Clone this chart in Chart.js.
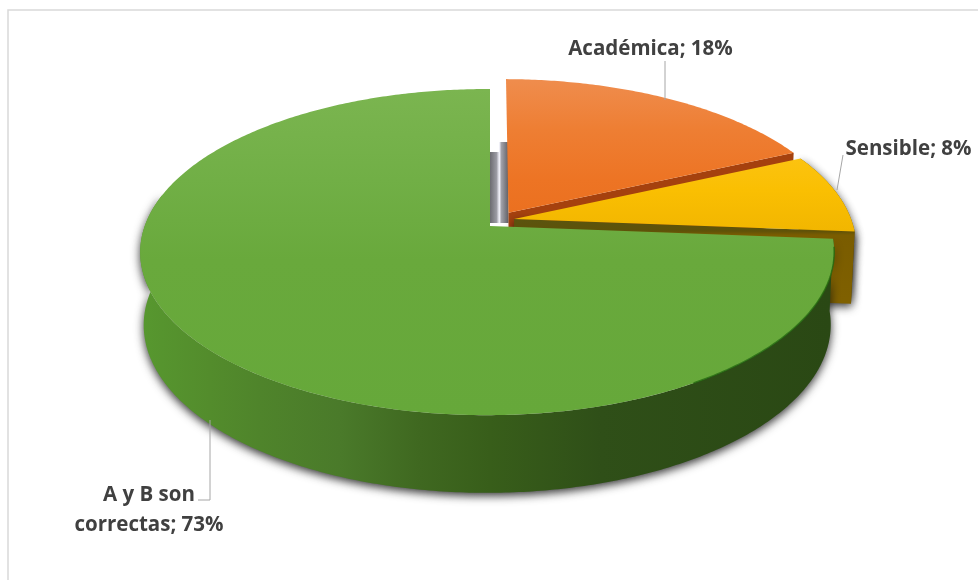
<!DOCTYPE html>
<html>
<head>
<meta charset="utf-8">
<style>html,body{margin:0;padding:0;background:#fff}#w{position:relative;width:978px;height:580px}canvas{display:block}</style>
<script src="https://cdn.jsdelivr.net/npm/chart.js@4/dist/chart.umd.js"></script>
</head>
<body>
<div id="w"><canvas id="c" width="978" height="580"></canvas></div>
<script>
const categories = ['Académica', 'Sensible', 'A y B son correctas'];
const values = [18, 8, 73];
const labelLines = [['Académica; 18%'], ['Sensible; 8%'], ['A y B son', 'correctas; 73%']];
const sliceColors = ['#ED7D31', '#FFC000', '#70AD47'];
const sliceOffsets = [28, 23, 0];
const explodeTurn = [0, -0.38, 0];

// perspective of the tilted disc
const view = {cx: 490, cy: 226, a: 342.5, b: 158.9, k: 0.16, m: 0.008, drop: 72, sx: 0.99, sy: 1.03};

const topStops = [
  [[82, '#ef8c4c'], [130, '#ee7e33'], [180, '#ed7424'], [225, '#ea6f1e']],
  [[150, '#fcc414'], [190, '#fabf02'], [235, '#f1b500']],
  [[89, '#7bb550'], [180, '#71af46'], [260, '#69a93c'], [415, '#66a83a']]
];
const greenSide = [[144, '#57972f'], [210, '#538c2c'], [260, '#4f842b'], [340, '#4a7a2a'], [420, '#3f6820'], [490, '#385e1a'], [600, '#2f4f18'], [830, '#2a4814']];
const yellowFace = [[218, '#5a5410'], [231, '#5f5208'], [235, '#7a5c00'], [300, '#7f6000']];

const labelSpots = [
  {x: 650.5, y: [49.5]},
  {x: 908.5, y: [149.5]},
  {x: 149, y: [495, 525]}
];
const leaders = [
  [[665, 61], [665, 100]],
  [[843, 155], [837, 190]],
  [[210, 420], [210, 500], [198, 500]]
];

function project(u, v) {
  const w = 1 + view.k * v + view.m * u;
  return {x: view.cx + view.a * u / w, y: view.cy - view.b * v / w};
}
function sink(p) {
  return {x: view.cx + (p.x - view.cx) * view.sx, y: view.cy + view.drop + (p.y - view.cy) * view.sy};
}
function geometry(arc, i) {
  const mid = (arc.startAngle + arc.endAngle) / 2 + explodeTurn[i];
  const e = (arc.options.offset || 0) / arc.outerRadius;
  const ou = e * Math.cos(mid), ov = -e * Math.sin(mid);
  return {
    at: (t) => project(ou + Math.cos(t), ov - Math.sin(t)),
    apex: project(ou, ov)
  };
}
function rimPoints(g, t0, t1) {
  const n = Math.max(2, Math.ceil(Math.abs(t1 - t0) * 90)), pts = [];
  for (let i = 0; i <= n; i++) pts.push(g.at(t0 + (t1 - t0) * i / n));
  return pts;
}
function trace(ctx, pts) {
  ctx.beginPath();
  pts.forEach((p, i) => i ? ctx.lineTo(p.x, p.y) : ctx.moveTo(p.x, p.y));
  ctx.closePath();
}
function gradient(ctx, stops, horizontal) {
  const lo = stops[0][0], hi = stops[stops.length - 1][0];
  const gr = horizontal ? ctx.createLinearGradient(lo, 0, hi, 0) : ctx.createLinearGradient(0, lo, 0, hi);
  stops.forEach(s => gr.addColorStop((s[0] - lo) / (hi - lo), s[1]));
  return gr;
}
function withShadow(ctx, fn) {
  ctx.save();
  ctx.shadowColor = 'rgba(15,15,15,0.85)';
  ctx.shadowBlur = 10;
  ctx.shadowOffsetX = 0;
  ctx.shadowOffsetY = 3;
  fn();
  ctx.restore();
}

const pie3d = {
  id: 'pie3d',
  beforeDatasetsDraw(chart) {
    const ctx = chart.ctx;
    const arcs = chart.getDatasetMeta(0).data;

    // soft shadows seen through the gap between the green and orange slices
    const gGreen = geometry(arcs[2], 2), gOrange = geometry(arcs[0], 0);
    const x0 = gGreen.apex.x, x1 = gOrange.apex.x;
    const gapGrad = ctx.createLinearGradient(x0, 0, x1, 0);
    gapGrad.addColorStop(0, '#6c6c71'); gapGrad.addColorStop(0.35, '#9a9aa2');
    gapGrad.addColorStop(0.5, '#f2f2fb'); gapGrad.addColorStop(0.62, '#a0a0a8');
    gapGrad.addColorStop(1, '#606066');
    ctx.fillStyle = gapGrad;
    const yBase = gGreen.apex.y - 3;
    ctx.fillRect(x0, yBase - 71, (x1 - x0) / 2, 71);
    ctx.fillRect((x0 + x1) / 2, yBase - 81, (x1 - x0) / 2, 81);

    arcs.forEach((arc, i) => {
      const g = geometry(arc, i);
      const s = arc.startAngle, e = arc.endAngle;
      const rim = rimPoints(g, s, e);
      const isGreen = i === 2;

      // outer wall
      const wallTo = isGreen ? Math.min(e, Math.PI + 0.2) : e;
      const wall = rimPoints(g, s, wallTo);
      const wallPath = wall.concat(wall.map(sink).reverse());
      // cut face at the end angle of the slice is the front one for slices 0 and 1
      const endP = g.at(e);
      const face = [g.apex, endP, sink(endP), sink(g.apex)];

      if (i === 0) {
        trace(ctx, face);
        ctx.fillStyle = '#a5410e';
        ctx.fill();
      } else {
        withShadow(ctx, () => {
          if (i === 1) {
            trace(ctx, wallPath);
            ctx.fillStyle = '#7f6000';
            ctx.fill();
            trace(ctx, face);
            ctx.fillStyle = gradient(ctx, yellowFace, false);
            ctx.fill();
          } else {
            trace(ctx, wallPath);
            ctx.fillStyle = gradient(ctx, greenSide, true);
            ctx.fill();
          }
        });
      }

      // top surface
      trace(ctx, [g.apex].concat(rim));
      ctx.fillStyle = gradient(ctx, topStops[i], false);
      ctx.fill();

      // darker lip along the lit green rim on the right
      if (isGreen) {
        const lip = rimPoints(g, s + 0.05, s + 0.95);
        ctx.beginPath();
        lip.forEach((p, j) => j ? ctx.lineTo(p.x, p.y) : ctx.moveTo(p.x, p.y));
        ctx.strokeStyle = 'rgba(35,105,15,0.8)';
        ctx.lineWidth = 1.5;
        ctx.stroke();
      }
    });
    return false;
  },
  afterDraw(chart) {
    const ctx = chart.ctx;
    ctx.save();
    // frame
    ctx.strokeStyle = '#d9d9d9';
    ctx.lineWidth = 1.5;
    ctx.beginPath();
    ctx.moveTo(8, 580); ctx.lineTo(8, 10); ctx.lineTo(978, 10);
    ctx.stroke();
    // leaders
    ctx.strokeStyle = '#a6a6a6';
    ctx.lineWidth = 1;
    leaders.forEach(l => {
      ctx.beginPath();
      l.forEach((p, i) => i ? ctx.lineTo(p[0], p[1]) : ctx.moveTo(p[0], p[1]));
      ctx.stroke();
    });
    // labels
    ctx.fillStyle = '#404040';
    ctx.font = 'bold 20.5px "Open Sans"';
    ctx.textAlign = 'center';
    ctx.textBaseline = 'middle';
    labelLines.forEach((lines, i) => {
      lines.forEach((t, j) => ctx.fillText(t, labelSpots[i].x, labelSpots[i].y[j]));
    });
    ctx.restore();
  }
};

new Chart(document.getElementById('c'), {
  type: 'pie',
  data: {
    labels: categories,
    datasets: [{data: values, backgroundColor: sliceColors, offset: sliceOffsets, borderWidth: 0}]
  },
  options: {
    responsive: false,
    animation: false,
    layout: {padding: 0},
    plugins: {legend: {display: false}, tooltip: {enabled: false}}
  },
  plugins: [pie3d]
});
</script>
</body>
</html>
